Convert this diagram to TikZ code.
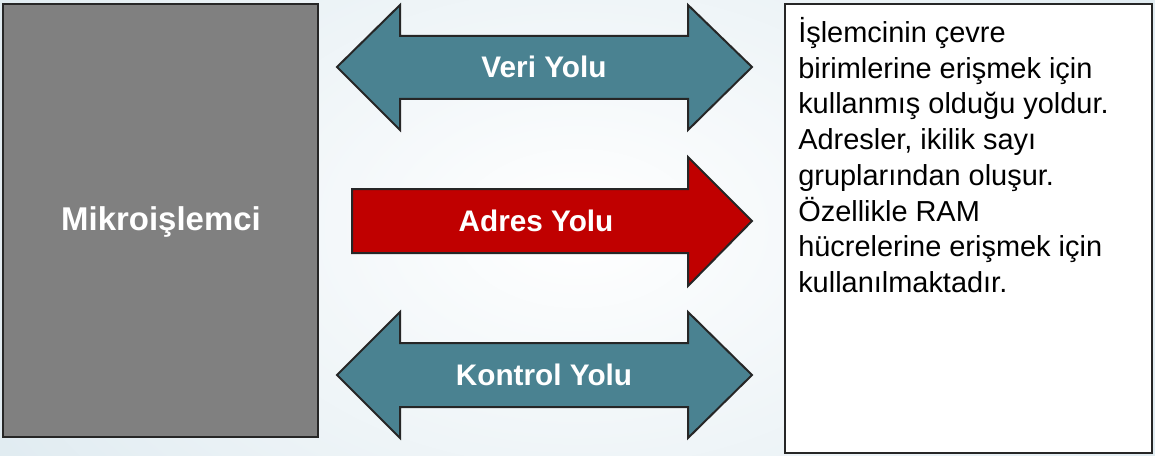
\documentclass[tikz,border=0pt]{standalone}
\usepackage{fontspec}
\setmainfont{Liberation Sans}
\usepackage{xcolor}
\usetikzlibrary{positioning, calc}
\definecolor{cpugray}{RGB}{128, 128, 128}
\definecolor{busteal}{RGB}{74, 130, 145}
\definecolor{busred}{RGB}{192, 0, 0}
\definecolor{edgedark}{RGB}{38, 38, 38}
\definecolor{bgouter}{RGB}{222, 234, 240}

\begin{document}
\begin{tikzpicture}[
    x=0.75pt, y=-0.75pt,
    cpu/.style={rectangle, draw=edgedark, fill=cpugray, line width=1.5pt, minimum width=315*0.75pt, minimum height=433*0.75pt, inner sep=0pt},
    bus/.style={draw=edgedark, line width=1.5pt, line join=miter},
    buslabel/.style={text=white, font=\bfseries\fontsize{22.3}{26}\selectfont, inner sep=0pt},
    descbox/.style={rectangle, draw=edgedark, fill=white, line width=1.5pt, minimum width=367*0.75pt, minimum height=449*0.75pt, inner sep=0pt},
    desctext/.style={font=\fontsize{21.7}{26.8}\selectfont, align=left, inner sep=0pt}
]
    % Background
    \useasboundingbox (0,0) rectangle (1155,456);
    \clip (0,0) rectangle (1155,456);
    \shade[inner color=white, outer color=bgouter] (-150,-250) rectangle (1305,706);

    % Processor
    \node[cpu] (cpu) at (160.5,220.5) {};
    \node[text=white, font=\bfseries\fontsize{24.7}{29}\selectfont, inner sep=0pt] (cpulabel) at (161,222) {Mikroişlemci};

    % Buses
    \draw[bus, fill=busteal] (337,67) -- (400,5) -- (400,36) -- (688,36) -- (688,5) -- (752,67)
        -- (688,130) -- (688,99) -- (400,99) -- (400,130) -- cycle;
    \node[buslabel] (data) at (544,67) {Veri Yolu};

    \draw[bus, fill=busred] (352,189) -- (688,189) -- (688,157) -- (752,221) -- (688,286)
        -- (688,253) -- (352,253) -- cycle;
    \node[buslabel] (address) at (536,221) {Adres Yolu};

    \draw[bus, fill=busteal] (337,375) -- (400,312) -- (400,343) -- (688,343) -- (688,312) -- (752,375)
        -- (688,438) -- (688,407) -- (400,407) -- (400,438) -- cycle;
    \node[buslabel] (control) at (544,375) {Kontrol Yolu};

    % Description
    \node[descbox] (desc) at (968.5,228.5) {};
    \node[desctext, anchor=north west] (desctext) at (798,17) {İşlemcinin çevre\\
        birimlerine erişmek için\\
        kullanmış olduğu yoldur.\\
        Adresler, ikilik sayı\\
        gruplarından oluşur.\\
        Özellikle RAM\\
        hücrelerine erişmek için\\
        kullanılmaktadır.};

\end{tikzpicture}
\end{document}
